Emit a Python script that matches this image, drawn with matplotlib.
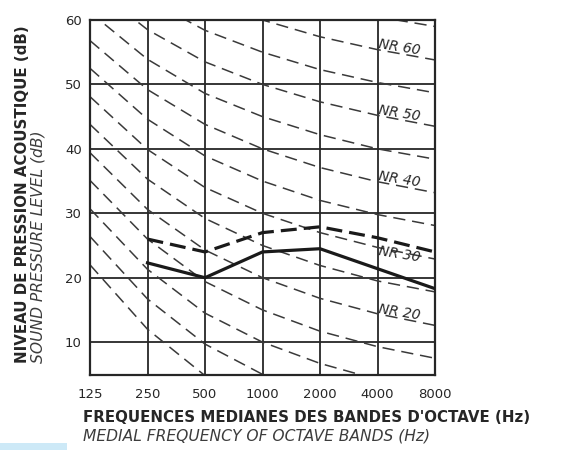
import matplotlib
matplotlib.use("Agg")
import matplotlib.pyplot as plt
from matplotlib.patches import Rectangle

# ---- data ----
bands = ["125", "250", "500", "1000", "2000", "4000", "8000"]
y_ticks = [10, 20, 30, 40, 50, 60]

nr_levels = [0, 5, 10, 15, 20, 25, 30, 35, 40, 45, 50, 55, 60, 65, 70]
nr_curves = [
    [22.0, 12.0, 4.8, 0.0, -3.5, -6.1, -8.0],
    [26.4, 16.7, 9.7, 5.0, 1.6, -1.0, -2.9],
    [30.7, 21.3, 14.5, 10.0, 6.7, 4.2, 2.3],
    [35.1, 26.0, 19.4, 15.0, 11.7, 9.3, 7.5],
    [39.4, 30.6, 24.3, 20.0, 16.8, 14.4, 12.6],
    [43.8, 35.3, 29.2, 25.0, 21.9, 19.5, 17.8],
    [48.1, 39.9, 34.0, 30.0, 27.0, 24.7, 22.9],
    [52.5, 44.6, 38.9, 35.0, 32.0, 29.8, 28.1],
    [56.8, 49.2, 43.8, 40.0, 37.1, 34.9, 33.2],
    [61.2, 53.9, 48.6, 45.0, 42.2, 40.0, 38.4],
    [65.5, 58.5, 53.5, 50.0, 47.3, 45.2, 43.5],
    [69.9, 63.2, 58.4, 55.0, 52.3, 50.3, 48.7],
    [74.2, 67.8, 63.2, 60.0, 57.4, 55.4, 53.8],
    [78.6, 72.5, 68.1, 65.0, 62.5, 60.5, 59.0],
    [82.9, 77.1, 73.0, 70.0, 67.6, 65.6, 64.1],
]
nr_labeled = [60, 50, 40, 30, 20]

measured_solid = [22.3, 20.0, 24.0, 24.5, 21.4, 18.3]   # 250..8000
measured_dashed = [26.0, 24.0, 27.0, 27.9, 26.2, 24.0]  # 250..8000

ylabel_fr = "NIVEAU DE PRESSION ACOUSTIQUE (dB)"
ylabel_en = "SOUND PRESSURE LEVEL (dB)"
xlabel_fr = "FREQUENCES MEDIANES DES BANDES D'OCTAVE (Hz)"
xlabel_en = "MEDIAL FREQUENCY OF OCTAVE BANDS (Hz)"

# ---- figure ----
W, H = 580, 450
fig = plt.figure(figsize=(W / 100, H / 100), dpi=100)
fig.patch.set_facecolor("white")
ink = "#262626"
ink2 = "#3c3c3c"

L, R, T, B = 90, 435, 20, 375
ax = fig.add_axes([L / W, 1 - B / H, (R - L) / W, (B - T) / H])
ax.set_xlim(0, len(bands) - 1)
ax.set_ylim(4.9, 60)

xpos = list(range(len(bands)))

# grid
for x in xpos:
    ax.axvline(x, color=ink, lw=1.3, zorder=1)
for y in y_ticks:
    ax.axhline(y, color=ink, lw=1.3, zorder=1)

# NR curves
for lvl, vals in zip(nr_levels, nr_curves):
    ln, = ax.plot(xpos, vals, color="#3a3a3a", lw=1.1, zorder=2)
    ln.set_dashes((8, 4.5))

# NR labels (between the 4000 and 8000 bands)
for lvl in nr_labeled:
    vals = nr_curves[nr_levels.index(lvl)]
    dy = -1.0 if lvl == 30 else 0.3
    ax.text(5.0, vals[5] + dy, f"NR {lvl}", ha="left", va="center",
            rotation=-9, fontsize=10, style="italic", color=ink, zorder=4)

# measured lines
ax.plot(xpos[1:], measured_solid, color="#1a1a1a", lw=2.3, zorder=3,
        solid_joinstyle="round")
dl, = ax.plot(xpos[1:], measured_dashed, color="#1a1a1a", lw=2.3, zorder=3)
dl.set_dashes((5, 2.2))

for s in ax.spines.values():
    s.set_color(ink)
    s.set_linewidth(1.6)

ax.set_xticks(xpos)
ax.set_xticklabels(bands)
ax.set_yticks(y_ticks)
ax.tick_params(length=0, labelsize=9.5, colors=ink)
ax.tick_params(axis="x", pad=9)
ax.tick_params(axis="y", pad=6)

# axis titles
fig.text(23 / W, 1 - 363 / H, ylabel_fr, rotation=90, ha="center", va="bottom",
         fontsize=10.8, fontweight="bold", color=ink)
fig.text(38 / W, 1 - 363 / H, ylabel_en, rotation=90, ha="center", va="bottom",
         fontsize=11.2, style="italic", color=ink2)
fig.text(83 / W, 1 - 418 / H, xlabel_fr, ha="left", va="center",
         fontsize=10.8, fontweight="bold", color=ink)
fig.text(83 / W, 1 - 436 / H, xlabel_en, ha="left", va="center",
         fontsize=11.2, style="italic", color=ink2)

# light blue strip bottom-left
fig.patches.append(Rectangle((0, 0), 67 / W, 7 / H, transform=fig.transFigure,
                             facecolor="#cde9f7", edgecolor="none"))

fig.savefig("out.png", dpi=100)
